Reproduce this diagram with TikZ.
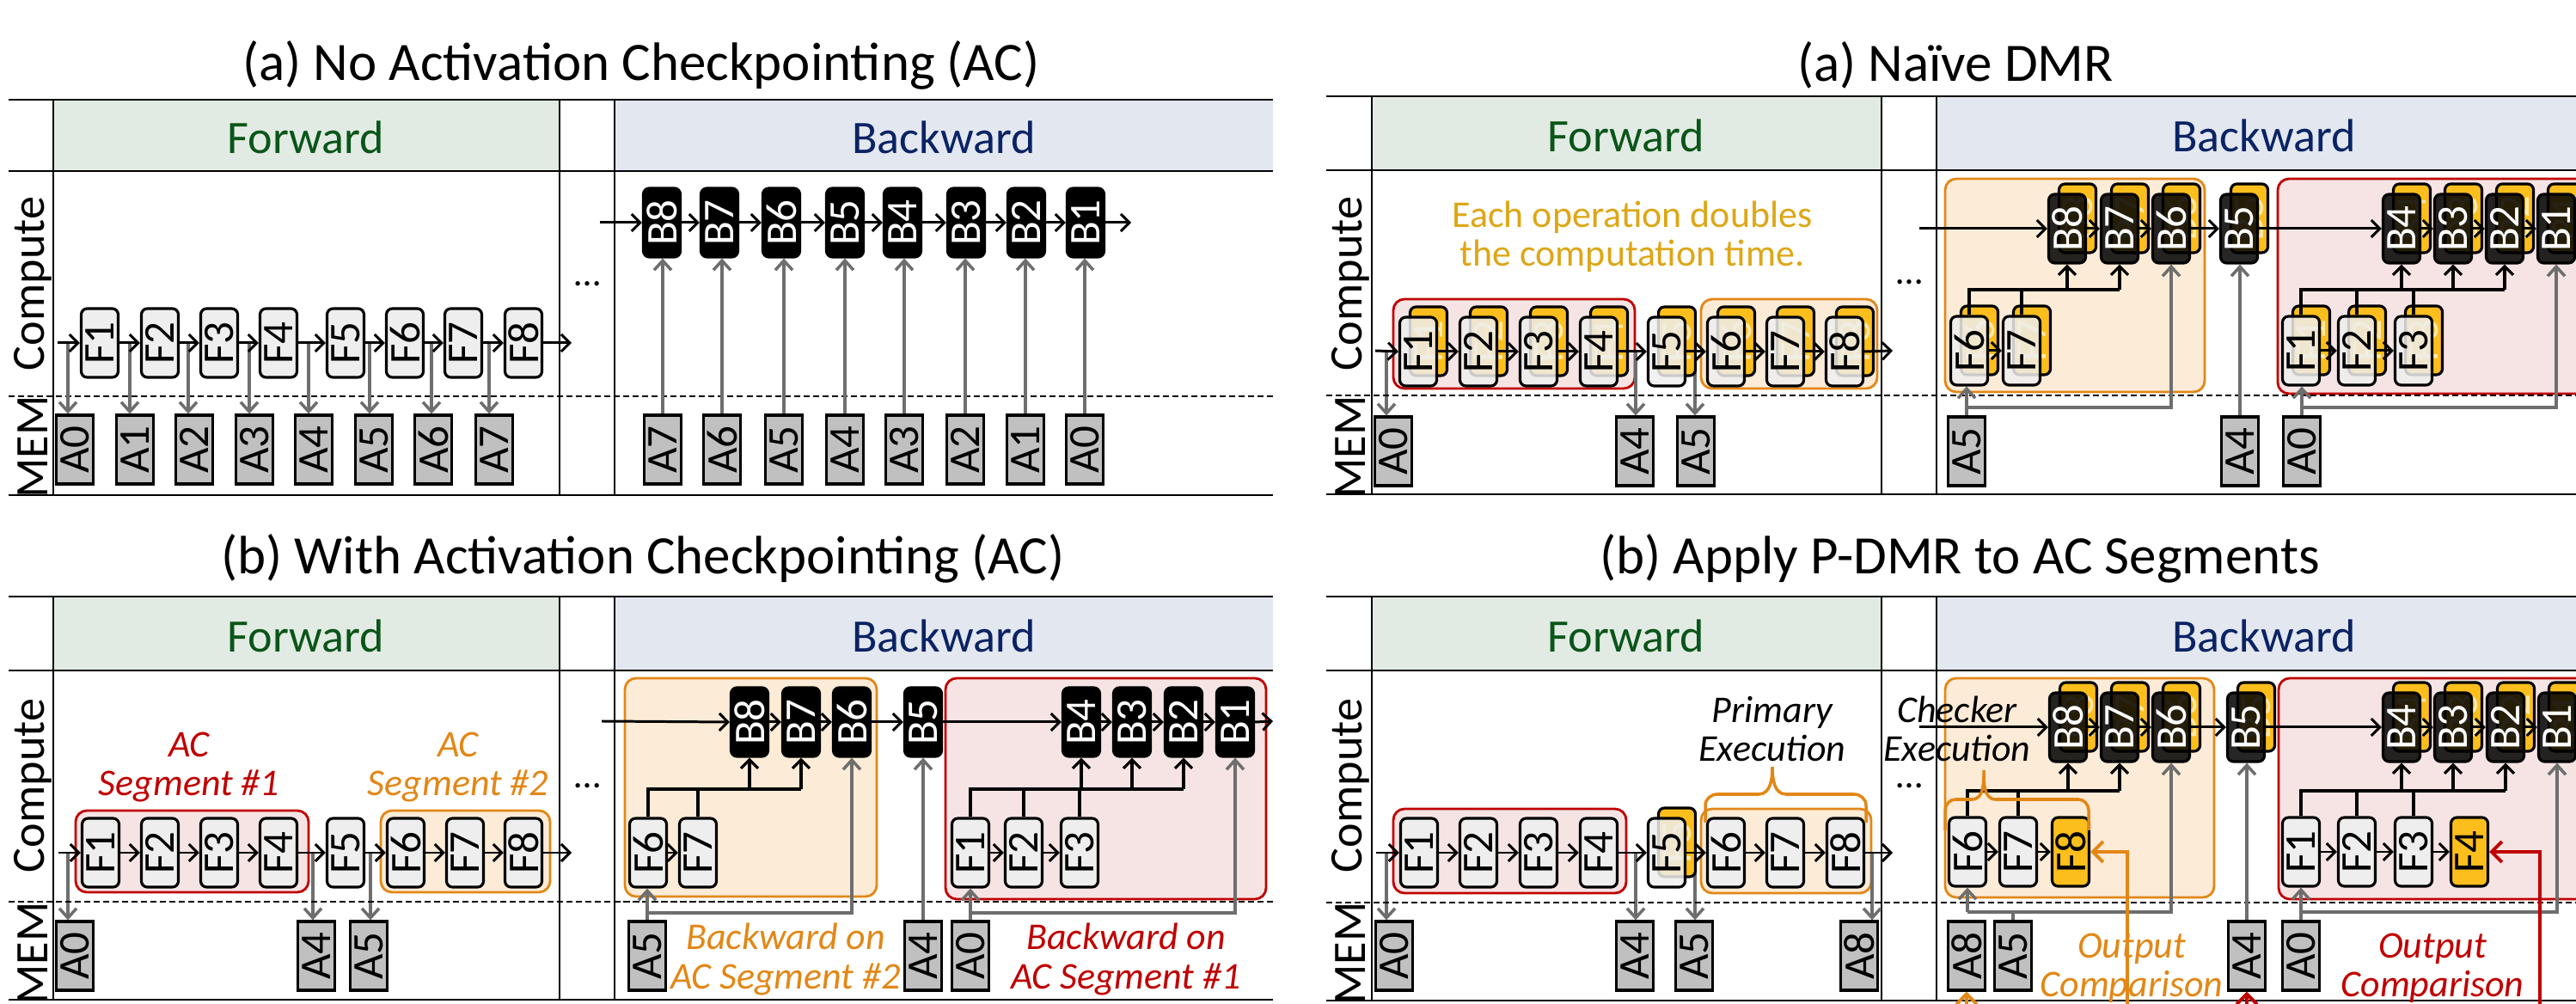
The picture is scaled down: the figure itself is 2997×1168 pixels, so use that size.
\documentclass[tikz,border=0pt]{standalone}
\usepackage{fontspec}
\setmainfont{Carlito}
\usetikzlibrary{arrows.meta}
\definecolor{fwdhdr}{RGB}{226,235,227}
\definecolor{bwdhdr}{RGB}{227,231,239}
\definecolor{fwdtext}{RGB}{10,85,25}
\definecolor{bwdtext}{RGB}{10,35,100}
\definecolor{fgray}{RGB}{238,238,238}
\definecolor{agray}{RGB}{192,192,192}
\definecolor{garr}{RGB}{110,110,110}
\definecolor{segred}{RGB}{192,0,0}
\definecolor{segredf}{RGB}{246,228,228}
\definecolor{segor}{RGB}{226,135,22}
\definecolor{segorf}{RGB}{252,235,215}
\definecolor{gold}{RGB}{222,166,22}
\definecolor{yel}{RGB}{252,190,28}
\definecolor{ylab}{RGB}{255,232,170}
\newcommand\titlef{\fontsize{17.9}{21}\selectfont}
\newcommand\hdrf{\fontsize{15.4}{18}\selectfont}
\newcommand\boxf{\fontsize{14.5}{15}\selectfont}
\newcommand\notef{\fontsize{12.5}{12.8}\selectfont}
\newcommand\rtx[1]{\rotatebox{90}{#1}}
\newcommand\dbl[5]{\node[yb] (#1k) at (#2+12,#3-12) {\rtx{#4}};\node[#5, fill opacity=0.85, text opacity=1] (#1) at (#2,#3) {\rtx{#4}};}
\tikzset{
 pline/.style={line width=0.7pt},
 dline/.style={line width=0.6pt, dash pattern=on 0.7mm off 0.4mm},
 fb/.style={draw, line width=0.9pt, rounded corners=0.7mm, fill=fgray, minimum width=0.43cm, minimum height=0.8cm, inner sep=0pt, font=\boxf},
 bb/.style={fb, fill=black, text=white},
 yb/.style={fb, fill=yel, text=ylab},
 fy/.style={fb, fill=yel},
 ab/.style={draw, line width=0.9pt, fill=agray, minimum width=0.43cm, minimum height=0.8cm, inner sep=0pt, font=\boxf},
 flow/.style={line width=0.85pt, -{Straight Barb[length=1mm,width=2mm]}},
 tline/.style={line width=0.9pt},
 tarrow/.style={tline, -{Straight Barb[length=1mm,width=2mm]}},
 gline/.style={line width=1pt, draw=garr},
 garrow/.style={gline, -{Straight Barb[length=1.1mm,width=2mm]}},
 segR/.style={draw=segred, fill=segredf, line width=0.8pt, rounded corners=1.3mm},
 segO/.style={draw=segor, fill=segorf, line width=0.8pt, rounded corners=1.3mm},
 ttl/.style={font=\titlef, inner sep=0pt},
 hdr/.style={font=\hdrf, inner sep=0pt},
 lab/.style={font=\hdrf, rotate=90, inner sep=0pt},
 note/.style={font=\notef\itshape, align=center, inner sep=0pt},
 dots/.style={font=\notef, inner sep=0pt},
 obrace/.style={draw=segor, line width=1pt},
 oarrow/.style={draw=segor, line width=1.1pt, -{Straight Barb[length=1.2mm,width=2.4mm]}},
 rarrow/.style={draw=segred, line width=1.1pt, -{Straight Barb[length=1.2mm,width=2.4mm]}},
}
\begin{document}
\begin{tikzpicture}[x=0.01cm,y=-0.01cm]
\useasboundingbox (0,0) rectangle (2997,1168);
\clip (0,0) rectangle (2997,1168);

%%%%%%%%%%%%%%%% LEFT (a)
\node[ttl] (tla) at (746,76) {(a) No Activation Checkpointing (AC)};
\fill[fwdhdr] (62,116) rectangle (651,199);
\fill[bwdhdr] (715,116) rectangle (1481,199);
\draw[pline] (10,116) -- (1481,116) (10,199) -- (1481,199) (10,576) -- (1481,576);
\draw[pline] (62,116) -- (62,576) (651,116) -- (651,576) (715,116) -- (715,576);
\draw[dline] (10,461) -- (1481,461);
\node[hdr, text=fwdtext] (laFw) at (356,160) {Forward};
\node[hdr, text=bwdtext] (laBw) at (1098,160) {Backward};
\node[lab] (laCo) at (38,330) {Compute};
\node[lab] (laMe) at (38,520) {MEM};
\node[dots] (laDt) at (684,330) {\ldots};
\foreach \n/\x in {1/116,2/186,3/255,4/324,5/402,6/471,7/539,8/609} {\node[fb] (laF\n) at (\x,399) {\rtx{F\n}};}
\foreach \n/\x/\g in {0/87/79,1/157/151,2/226/219,3/296/290,4/365/359,5/435/430,6/504/502,7/575/569} {
  \node[ab] (laA\n) at (\x,523) {\rtx{A\n}};
  \coordinate (laG\n) at (\g,399);
  \draw[garrow] (laG\n) -- (laG\n |- laA\n.north);
}
\coordinate (laS) at (67,399); \coordinate (laE) at (665,399);
\draw[flow] (laS) -- (laF1.west);
\foreach \i/\j in {1/2,2/3,3/4,4/5,5/6,6/7,7/8} {\draw[flow] (laF\i.east) -- (laF\j.west);}
\draw[flow] (laF8.east) -- (laE);
\foreach \n/\x in {8/770,7/837,6/909,5/983,4/1050,3/1124,2/1194,1/1263} {\node[bb] (laB\n) at (\x,259) {\rtx{B\n}};}
\foreach \n/\x/\b in {7/771/8,6/840/7,5/912/6,4/983/5,3/1052/4,2/1123/3,1/1193/2,0/1262/1} {
  \node[ab] (laC\n) at (\x,523) {\rtx{A\n}};
  \draw[garrow] (laC\n.north) -- (laC\n.north |- laB\b.south);
}
\coordinate (laS2) at (698,259); \coordinate (laE2) at (1316,259);
\draw[flow] (laS2) -- (laB8.west);
\foreach \i/\j in {8/7,7/6,6/5,5/4,4/3,3/2,2/1} {\draw[flow] (laB\i.east) -- (laB\j.west);}
\draw[flow] (laB1.east) -- (laE2);

%%%%%%%%%%%%%%%% LEFT (b)
\node[ttl] (tlb) at (748,650) {(b) With Activation Checkpointing (AC)};
\fill[fwdhdr] (62,694) rectangle (651,780);
\fill[bwdhdr] (715,694) rectangle (1481,780);
\draw[pline] (10,694) -- (1481,694) (10,780) -- (1481,780) (10,1163) -- (1481,1163);
\draw[pline] (62,694) -- (62,1163) (651,694) -- (651,1163) (715,694) -- (715,1163);
\node[hdr, text=fwdtext] (lbFw) at (356,740) {Forward};
\node[hdr, text=bwdtext] (lbBw) at (1098,740) {Backward};
\node[lab] (lbCo) at (38,914) {Compute};
\node[lab] (lbMe) at (38,1109) {MEM};
\node[dots] (lbDt) at (684,914) {\ldots};
\draw[segR] (88,943) rectangle (359,1038);
\draw[segO] (443,943) rectangle (640,1038);
\node[note, text=segred] (lbT1) at (220,893) {AC\\Segment \#1};
\node[note, text=segor] (lbT2) at (533,893) {AC\\Segment \#2};
\foreach \n/\x in {1/117,2/186,3/255,4/324,5/402,6/472,7/541,8/609} {\node[fb] (lbF\n) at (\x,992) {\rtx{F\n}};}
\foreach \n/\x/\g in {0/87/79,4/368/364,5/429/431} {
  \node[ab] (lbA\n) at (\x,1112) {\rtx{A\n}};
  \coordinate (lbG\n) at (\g,992);
  \draw[garrow] (lbG\n) -- (lbG\n |- lbA\n.north);
}
\coordinate (lbS) at (68,992); \coordinate (lbE) at (665,992);
\draw[flow] (lbS) -- (lbF1.west);
\foreach \i/\j in {1/2,2/3,3/4,4/5,5/6,6/7,7/8} {\draw[flow] (lbF\i.east) -- (lbF\j.west);}
\draw[flow] (lbF8.east) -- (lbE);
% backward
\draw[dline] (10,1049) -- (1481,1049);
\draw[segO] (727,789) rectangle (1020,1043);
\draw[segR] (1100,789) rectangle (1473,1046);
\draw[dline] (715,1049) -- (1481,1049);
\foreach \n/\x in {8/872,7/932,6/991,5/1074,4/1258,3/1317,2/1377,1/1437} {\node[bb] (lbB\n) at (\x,840) {\rtx{B\n}};}
\coordinate (lbS2) at (700,839); \coordinate (lbE2) at (1481,839);
\draw[flow] (lbS2) -- (lbB8.west);
\foreach \i/\j in {8/7,7/6,6/5,5/4,4/3,3/2,2/1} {\draw[flow] (lbB\i.east) -- (lbB\j.west);}
\draw[flow] (lbB1.east) -- (lbE2);
\foreach \n/\x in {6/754,7/812,1/1129,2/1191,3/1256} {\node[fb] (lbH\n) at (\x,992) {\rtx{F\n}};}
\draw[flow] (lbH6.east) -- (lbH7.west);
\draw[flow] (lbH1.east) -- (lbH2.west);
\draw[flow] (lbH2.east) -- (lbH3.west);
\coordinate (lbY) at (0,918);
\draw[tline] (lbH6.north) |- (lbB7.south |- lbY);
\draw[tline] (lbH7.north) -- (lbH7.north |- lbY);
\draw[tarrow] (lbB8.south |- lbY) -- (lbB8.south);
\draw[tarrow] (lbB7.south |- lbY) -- (lbB7.south);
\draw[tline] (lbH1.north) |- (lbB2.south |- lbY);
\draw[tline] (lbH2.north) -- (lbH2.north |- lbY);
\draw[tline] (lbH3.north) -- (lbH3.north |- lbY);
\draw[tarrow] (lbB4.south |- lbY) -- (lbB4.south);
\draw[tarrow] (lbB3.south |- lbY) -- (lbB3.south);
\draw[tarrow] (lbB2.south |- lbY) -- (lbB2.south);
\node[ab] (lbD5) at (753,1112) {\rtx{A5}};
\node[ab] (lbD4) at (1074,1112) {\rtx{A4}};
\node[ab] (lbD0) at (1129,1112) {\rtx{A0}};
\coordinate (lbZ) at (0,1062);
\draw[garrow] (lbD5.north) -- (lbD5.north |- lbH6.south);
\draw[garrow] (lbD5.north |- lbZ) -| (lbB6.south);
\draw[garrow] (lbD4.north) -- (lbD4.north |- lbB5.south);
\draw[garrow] (lbD0.north) -- (lbD0.north |- lbH1.south);
\draw[garrow] (lbD0.north |- lbZ) -| (lbB1.south);
\node[note, text=segor] (lbN2) at (914,1116) {Backward on\\AC Segment \#2};
\node[note, text=segred] (lbN1) at (1310,1116) {Backward on\\AC Segment \#1};

%%%%%%%%%%%%%%%% RIGHT (a)
\node[ttl] (tra) at (2275,76) {(a) Naïve DMR};
\fill[fwdhdr] (1596,112) rectangle (2189,198);
\fill[bwdhdr] (2253,112) rectangle (3030,198);
\draw[pline] (1543,112) -- (3030,112) (1543,198) -- (3030,198) (1543,575) -- (3030,575);
\draw[pline] (1596,112) -- (1596,575) (2189,112) -- (2189,575) (2253,112) -- (2253,575);
\node[hdr, text=fwdtext] (raFw) at (1892,158) {Forward};
\node[hdr, text=bwdtext] (raBw) at (2634,158) {Backward};
\node[lab] (raCo) at (1571,330) {Compute};
\node[lab] (raMe) at (1571,520) {MEM};
\node[dots] (raDt) at (2222,328) {\ldots};
\node[note, font=\notef, text=gold] (raNote) at (1899,275) {Each operation doubles\\the computation time.};
\draw[segR] (1621,348) rectangle (1902,452);
\draw[segO] (1979,348) rectangle (2184,452);
\foreach \n/\x/\g in {0/1621/1613,4/1902/1903,5/1973/1972} {
  \node[ab] (raA\n) at (\x,525) {\rtx{A\n}};
  \coordinate (raG\n) at (\g,408);
  \draw[garrow] (raG\n) -- (raG\n |- raA\n.north);
}
\dbl{raF1}{1650}{409}{F1}{fb}
\dbl{raF2}{1720}{409}{F2}{fb}
\dbl{raF3}{1790}{409}{F3}{fb}
\dbl{raF4}{1860}{409}{F4}{fb}
\dbl{raF5}{1939}{409}{F5}{fb}
\dbl{raF6}{2008}{409}{F6}{fb}
\dbl{raF7}{2077}{409}{F7}{fb}
\dbl{raF8}{2146}{409}{F8}{fb}
\coordinate (raS) at (1600,408); \coordinate (raE) at (2202,408);
\draw[flow] (raS) -- (raF1.west);
\foreach \i/\j in {1/2,2/3,3/4,4/5,5/6,6/7,7/8} {\draw[flow] (raF\i.east) -- (raF\j.west);}
\draw[flow] (raF8.east) -- (raE);
% backward
\draw[segO] (2263,208) rectangle (2565,456);
\draw[segR] (2650,208) rectangle (3030,458);
\draw[dline] (1543,460) -- (2997,460);
\dbl{raB8}{2405}{266}{B8}{bb}
\dbl{raB7}{2466}{266}{B7}{bb}
\dbl{raB6}{2526}{266}{B6}{bb}
\dbl{raB5}{2605}{266}{B5}{bb}
\dbl{raB4}{2794}{266}{B4}{bb}
\dbl{raB3}{2854}{266}{B3}{bb}
\dbl{raB2}{2914}{266}{B2}{bb}
\dbl{raB1}{2974}{266}{B1}{bb}
\coordinate (raS2) at (2233,266); \coordinate (raE2) at (3030,266);
\draw[flow] (raS2) -- (raB8.west);
\foreach \i/\j in {8/7,7/6,6/5,5/4,4/3,3/2,2/1} {\draw[flow] (raB\i.east) -- (raB\j.west);}
\draw[flow] (raB1.east) -- (raE2);
\dbl{raH6}{2291}{408}{F6}{fb}
\dbl{raH7}{2352}{408}{F7}{fb}
\dbl{raH1}{2677}{408}{F1}{fb}
\dbl{raH2}{2742}{408}{F2}{fb}
\dbl{raH3}{2808}{408}{F3}{fb}
\draw[flow] (raH6.east) -- (raH7.west);
\draw[flow] (raH1.east) -- (raH2.west);
\draw[flow] (raH2.east) -- (raH3.west);
\coordinate (raY) at (0,337);
\draw[tline] (raH6.north) |- (raB7.south |- raY);
\draw[tline] (raH7.north) -- (raH7.north |- raY);
\draw[tarrow] (raB8.south |- raY) -- (raB8.south);
\draw[tarrow] (raB7.south |- raY) -- (raB7.south);
\draw[tline] (raH1.north) |- (raB2.south |- raY);
\draw[tline] (raH2.north) -- (raH2.north |- raY);
\draw[tline] (raH3.north) -- (raH3.north |- raY);
\draw[tarrow] (raB4.south |- raY) -- (raB4.south);
\draw[tarrow] (raB3.south |- raY) -- (raB3.south);
\draw[tarrow] (raB2.south |- raY) -- (raB2.south);
\node[ab] (raD5) at (2288,525) {\rtx{A5}};
\node[ab] (raD4) at (2606,525) {\rtx{A4}};
\node[ab] (raD0) at (2678,525) {\rtx{A0}};
\coordinate (raZ) at (0,474);
\draw[garrow] (raD5.north) -- (raD5.north |- raH6.south);
\draw[garrow] (raD5.north |- raZ) -| (raB6.south);
\draw[garrow] (raD4.north) -- (raD4.north |- raB5.south);
\draw[garrow] (raD0.north) -- (raD0.north |- raH1.south);
\draw[garrow] (raD0.north |- raZ) -| (raB1.south);

%%%%%%%%%%%%%%%% RIGHT (b)
\node[ttl] (trb) at (2280,650) {(b) Apply P-DMR to AC Segments};
\fill[fwdhdr] (1596,694) rectangle (2189,780);
\fill[bwdhdr] (2253,694) rectangle (3030,780);
\draw[pline] (1543,694) -- (3030,694) (1543,780) -- (3030,780) (1543,1164) -- (3030,1164);
\draw[pline] (1596,694) -- (1596,1164) (2189,694) -- (2189,1164) (2253,694) -- (2253,1164);
\node[hdr, text=fwdtext] (rbFw) at (1892,740) {Forward};
\node[hdr, text=bwdtext] (rbBw) at (2634,740) {Backward};
\node[lab] (rbCo) at (1571,914) {Compute};
\node[lab] (rbMe) at (1571,1109) {MEM};
\node[dots] (rbDt) at (2222,914) {\ldots};
\draw[segR] (1621,941) rectangle (1892,1039);
\draw[segO] (1979,941) rectangle (2177,1039);
\foreach \n/\x/\g in {0/1622/1613,4/1902/1903,5/1971/1972,8/2163/2178} {
  \node[ab] (rbA\n) at (\x,1112) {\rtx{A\n}};
  \coordinate (rbG\n) at (\g,992);
  \draw[garrow] (rbG\n) -- (rbG\n |- rbA\n.north);
}
\foreach \n/\x in {1/1651,2/1720,3/1790,4/1860,6/2008,7/2077,8/2147} {\node[fb] (rbF\n) at (\x,992) {\rtx{F\n}};}
\dbl{rbF5}{1939}{992}{F5}{fb}
\coordinate (rbS) at (1601,992); \coordinate (rbE) at (2202,992);
\draw[flow] (rbS) -- (rbF1.west);
\foreach \i/\j in {1/2,2/3,3/4,4/5,5/6,6/7,7/8} {\draw[flow] (rbF\i.east) -- (rbF\j.west);}
\draw[flow] (rbF8.east) -- (rbE);
\draw[obrace] (1984,957) -- (1984,937) to[out=90,in=180] (1998,924) -- (2046,924) to[out=0,in=-90] (2062,892) to[out=-90,in=180] (2078,924) -- (2157,924) to[out=0,in=90] (2171,937) -- (2171,957);
\node[note] (rbPri) at (2062,848) {Primary\\Execution};
% backward
\draw[segO] (2263,789) rectangle (2576,1044);
\draw[segR] (2651,789) rectangle (3030,1046);
\draw[dline] (1543,1050) -- (2997,1050);
\node[note] (rbChk) at (2277,848) {Checker\\Execution};
\dbl{rbB8}{2406}{846}{B8}{bb}
\dbl{rbB7}{2466}{846}{B7}{bb}
\dbl{rbB6}{2526}{846}{B6}{bb}
\dbl{rbB5}{2613}{846}{B5}{bb}
\dbl{rbB4}{2794}{846}{B4}{bb}
\dbl{rbB3}{2854}{846}{B3}{bb}
\dbl{rbB2}{2915}{846}{B2}{bb}
\dbl{rbB1}{2975}{846}{B1}{bb}
\coordinate (rbS2) at (2233,846); \coordinate (rbE2) at (3030,846);
\draw[flow] (rbS2) -- (rbB8.west);
\foreach \i/\j in {8/7,7/6,6/5,5/4,4/3,3/2,2/1} {\draw[flow] (rbB\i.east) -- (rbB\j.west);}
\draw[flow] (rbB1.east) -- (rbE2);
\node[fb] (rbH6) at (2289,991) {\rtx{F6}};
\node[fb] (rbH7) at (2348,991) {\rtx{F7}};
\node[fy] (rbH8) at (2409,991) {\rtx{F8}};
\node[fb] (rbH1) at (2677,991) {\rtx{F1}};
\node[fb] (rbH2) at (2742,991) {\rtx{F2}};
\node[fb] (rbH3) at (2808,991) {\rtx{F3}};
\node[fy] (rbH4) at (2873,991) {\rtx{F4}};
\draw[flow] (rbH6.east) -- (rbH7.west);
\draw[flow] (rbH7.east) -- (rbH8.west);
\draw[flow] (rbH1.east) -- (rbH2.west);
\draw[flow] (rbH2.east) -- (rbH3.west);
\draw[flow] (rbH3.east) -- (rbH4.west);
\coordinate (rbY) at (0,920);
\draw[tline] (rbH6.north) |- (rbB7.south |- rbY);
\draw[tline] (rbH7.north) -- (rbH7.north |- rbY);
\draw[tarrow] (rbB8.south |- rbY) -- (rbB8.south);
\draw[tarrow] (rbB7.south |- rbY) -- (rbB7.south);
\draw[tline] (rbH1.north) |- (rbB2.south |- rbY);
\draw[tline] (rbH2.north) -- (rbH2.north |- rbY);
\draw[tline] (rbH3.north) -- (rbH3.north |- rbY);
\draw[tarrow] (rbB4.south |- rbY) -- (rbB4.south);
\draw[tarrow] (rbB3.south |- rbY) -- (rbB3.south);
\draw[tarrow] (rbB2.south |- rbY) -- (rbB2.south);
\draw[obrace] (2263,966) -- (2263,943) to[out=90,in=180] (2275,930) -- (2294,930) to[out=0,in=-90] (2308,896) to[out=-90,in=180] (2322,930) -- (2418,930) to[out=0,in=90] (2430,943) -- (2430,966);
\node[ab] (rbD8) at (2288,1112) {\rtx{A8}};
\node[ab] (rbD5) at (2342,1112) {\rtx{A5}};
\node[ab] (rbD4) at (2614,1112) {\rtx{A4}};
\node[ab] (rbD0) at (2677,1112) {\rtx{A0}};
\coordinate (rbZ) at (0,1061);
\draw[gline] (rbD5.north) -- (rbD5.north |- rbZ);
\draw[garrow] (rbH6.south |- rbZ) -- (rbH6.south);
\draw[garrow] (rbH6.south |- rbZ) -| (rbB6.south);
\draw[garrow] (rbD4.north) -- (rbD4.north |- rbB5.south);
\draw[garrow] (rbD0.north) -- (rbD0.north |- rbH1.south);
\draw[garrow] (rbD0.north |- rbZ) -| (rbB1.south);
\node[note, text=segor] (rbO1) at (2480,1126) {Output\\Comparison};
\node[note, text=segred] (rbO2) at (2830,1126) {Output\\Comparison};
\coordinate (rbQo) at (2475,1190);
\coordinate (rbQr) at (2955,1190);
\coordinate (rbBot) at (0,1190);
\draw[oarrow] (rbQo) |- (rbH8.east);
\draw[oarrow] (rbD8.south |- rbBot) -- (rbD8.south);
\draw[rarrow] (rbQr) |- (rbH4.east);
\draw[rarrow] (rbD4.south |- rbBot) -- (rbD4.south);
\end{tikzpicture}
\end{document}
